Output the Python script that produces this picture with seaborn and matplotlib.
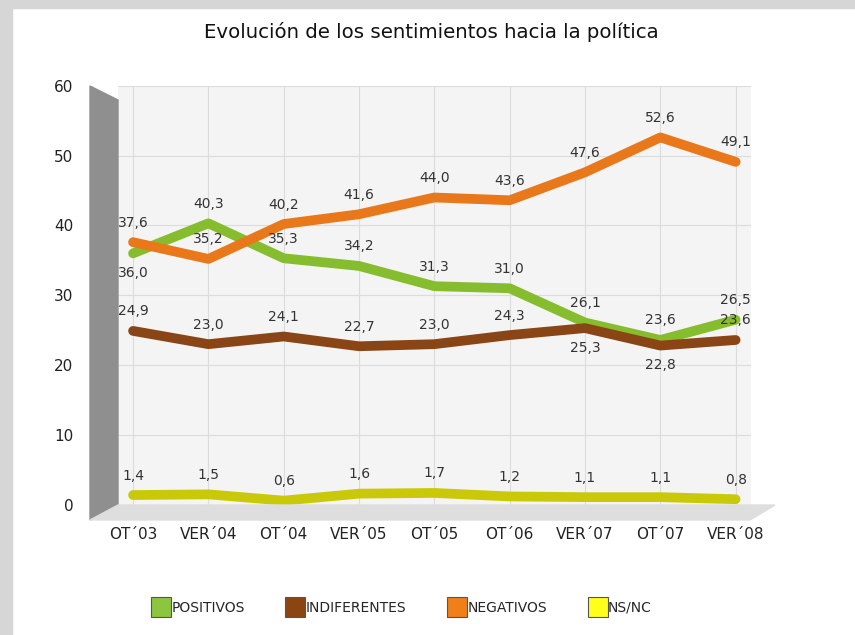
import matplotlib
matplotlib.use("Agg")
import matplotlib.pyplot as plt
import seaborn as sns
import pandas as pd
from matplotlib.patches import Polygon, Rectangle
from matplotlib.lines import Line2D

# -----------------------------------------------------
# DATA
# -----------------------------------------------------
periods = ["OT´03", "VER´04", "OT´04", "VER´05", "OT´05", "OT´06", "VER´07", "OT´07", "VER´08"]
positivos = [36.0, 40.3, 35.3, 34.2, 31.3, 31.0, 26.1, 23.6, 26.5]
indiferentes = [24.9, 23.0, 24.1, 22.7, 23.0, 24.3, 25.3, 22.8, 23.6]
negativos = [37.6, 35.2, 40.2, 41.6, 44.0, 43.6, 47.6, 52.6, 49.1]
nsnc = [1.4, 1.5, 0.6, 1.6, 1.7, 1.2, 1.1, 1.1, 0.8]

series_names = ["POSITIVOS", "INDIFERENTES", "NEGATIVOS", "NS/NC"]
line_colors = ["#86bd2e", "#8a4516", "#e8781a", "#c9c90a"]
legend_colors = ["#8cc63f", "#8b4513", "#f07f1a", "#ffff1a"]

# labels that would sit on top of each other go under the line
below = {("POSITIVOS", 0), ("INDIFERENTES", 6), ("INDIFERENTES", 7)}

rows = []
for name, vals in zip(series_names, [positivos, indiferentes, negativos, nsnc]):
    for i, v in enumerate(vals):
        rows.append([name, i, v])
df = pd.DataFrame(rows, columns=["serie", "pos", "valor"])

# -----------------------------------------------------
sns.set_theme(style="white")
plt.rcParams["font.family"] = ["DejaVu Sans"]

fig = plt.figure(figsize=(8.55, 6.35), dpi=100)
fig.patch.set_facecolor("white")

# gray frame round the slide
fig.patches.append(Rectangle((0, 0), 0.014, 1, transform=fig.transFigure, color="#d6d6d6", zorder=0))
fig.patches.append(Rectangle((0, 0.987), 1, 0.013, transform=fig.transFigure, color="#d6d6d6", zorder=0))

ax = fig.add_axes([0.138, 0.205, 0.740, 0.660])
ax.set_facecolor("#f4f4f4")

# fake 3D side wall and floor
W, H = 855, 635
wall = [(90 / W, 1 - 86 / H), (118 / W, 1 - 100 / H), (118 / W, 1 - 505 / H), (90 / W, 1 - 520 / H)]
fig.patches.append(Polygon(wall, closed=True, transform=fig.transFigure, color="#8f8f8f", zorder=1))
floor = [(90 / W, 1 - 520 / H), (118 / W, 1 - 505 / H), (775 / W, 1 - 505 / H), (750 / W, 1 - 520 / H)]
fig.patches.append(Polygon(floor, closed=True, transform=fig.transFigure, color="#dedede", zorder=1))

sns.lineplot(data=df, x="pos", y="valor", hue="serie", hue_order=series_names,
             palette=line_colors, linewidth=7, ax=ax, legend=False,
             solid_capstyle="round", solid_joinstyle="round", zorder=3)

for name, vals in zip(series_names, [positivos, indiferentes, negativos, nsnc]):
    for i, v in enumerate(vals):
        if (name, i) in below:
            off, va = (0, -9), "top"
        else:
            off, va = (0, 9), "bottom"
        ax.annotate(f"{v:.1f}".replace(".", ","), (i, v), xytext=off,
                    textcoords="offset points", ha="center", va=va,
                    fontsize=10, color="#333333", zorder=5)

ax.set_xlim(-0.2, 8.2)
ax.set_ylim(0, 60)
ax.set_yticks(range(0, 61, 10))
ax.set_xticks(range(len(periods)))
ax.set_xticklabels(periods)
ax.grid(True, color="#dcdcdc", linewidth=0.8)
ax.tick_params(axis="y", pad=32, labelsize=11, colors="#222222", length=0)
ax.tick_params(axis="x", pad=16, labelsize=11, colors="#222222", length=0)
for s in ax.spines.values():
    s.set_visible(False)
ax.set_xlabel("")
ax.set_ylabel("")

fig.suptitle("Evolución de los sentimientos hacia la política", x=0.505, y=0.965,
             fontsize=14.2, color="#111111")

handles = [Line2D([], [], marker="s", linestyle="none", markersize=15,
                  markerfacecolor=c, markeredgecolor="#555555", markeredgewidth=0.8)
           for c in legend_colors]
fig.legend(handles, series_names, loc="center", bbox_to_anchor=(0.47, 0.043), ncol=4,
           frameon=False, fontsize=10, handletextpad=0.1, columnspacing=3.0,
           handlelength=1.3)

fig.savefig("out.png", dpi=100)
